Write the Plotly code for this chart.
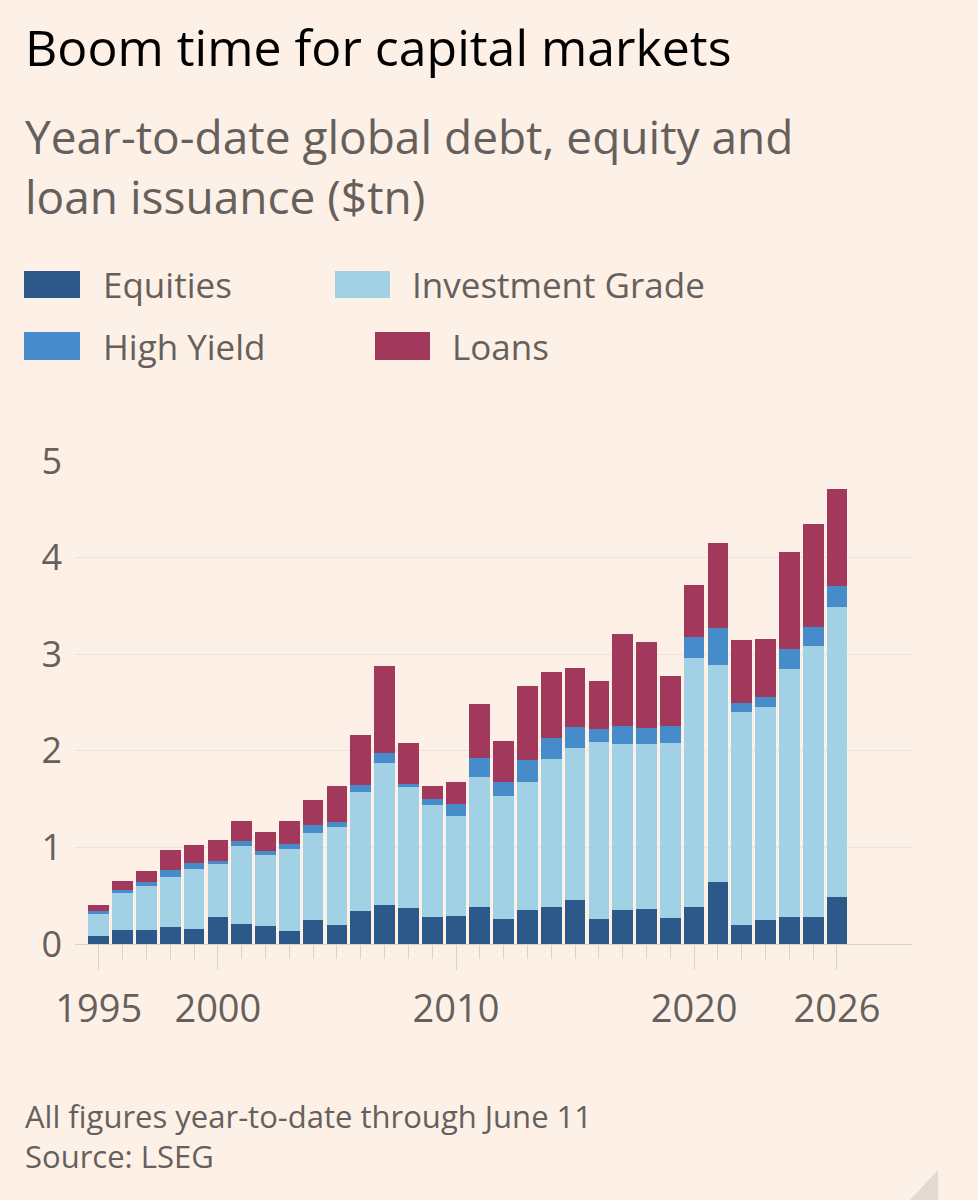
import plotly.graph_objects as go

years = list(range(1995, 2027))
equities = [0.08, 0.15, 0.14, 0.18, 0.16, 0.28, 0.21, 0.19, 0.13, 0.25,
            0.20, 0.34, 0.40, 0.37, 0.28, 0.29, 0.38, 0.26, 0.35, 0.38,
            0.46, 0.26, 0.35, 0.36, 0.27, 0.38, 0.64, 0.20, 0.25, 0.28,
            0.28, 0.49]
investment_grade = [0.24, 0.38, 0.46, 0.51, 0.62, 0.55, 0.80, 0.73, 0.85, 0.90,
                    1.01, 1.23, 1.47, 1.26, 1.16, 1.03, 1.35, 1.27, 1.33, 1.53,
                    1.57, 1.83, 1.72, 1.71, 1.81, 2.58, 2.25, 2.20, 2.20, 2.57,
                    2.81, 3.00]
high_yield = [0.02, 0.03, 0.04, 0.08, 0.06, 0.03, 0.06, 0.04, 0.06, 0.08,
              0.05, 0.08, 0.11, 0.03, 0.06, 0.13, 0.20, 0.15, 0.22, 0.22,
              0.22, 0.14, 0.19, 0.17, 0.18, 0.22, 0.38, 0.09, 0.11, 0.20,
              0.19, 0.22]
loans = [0.06, 0.09, 0.12, 0.20, 0.18, 0.22, 0.20, 0.20, 0.23, 0.26,
         0.38, 0.51, 0.90, 0.42, 0.14, 0.23, 0.55, 0.42, 0.77, 0.69,
         0.61, 0.49, 0.95, 0.89, 0.51, 0.54, 0.88, 0.66, 0.60, 1.01,
         1.07, 1.00]

x_tick_vals = [1995, 2000, 2010, 2020, 2026]
x_tick_text = ["1995", "2000", "2010", "2020", "2026"]
y_tick_vals = [0, 1, 2, 3, 4, 5]

series_names = ["Equities", "Investment Grade", "High Yield", "Loans"]
series_values = [equities, investment_grade, high_yield, loans]
colors = ["#2d5889", "#a2d0e4", "#468cca", "#a2385c"]

BG = "#fdf1e7"
TEXT_GREY = "#66605c"
FONT = "Open Sans"

# plot area in pixels
PL, PR, PT, PB = 75, 912, 461, 944
PW, PH = PR - PL, PB - PT


def px(x):
    return (x - PL) / PW


def py(y):
    return (PB - y) / PH


fig = go.Figure()
for name, vals, col in zip(series_names, series_values, colors):
    fig.add_trace(go.Bar(x=years, y=vals, name=name, marker_color=col,
                         marker_line_width=0, showlegend=False))

fig.update_layout(
    barmode="stack",
    bargap=0.13,
    width=978, height=1200,
    paper_bgcolor=BG, plot_bgcolor=BG,
    margin=dict(l=PL, r=978 - PR, t=PT, b=1200 - PB, autoexpand=False),
    font=dict(family=FONT, color=TEXT_GREY),
    xaxis=dict(range=[1994.0, 2029.15], tickvals=x_tick_vals, ticktext=x_tick_text,
               ticks="outside", ticklen=25, tickcolor="#ddd2c8", tickwidth=1,
               minor=dict(tickvals=years, ticks="outside", ticklen=14,
                          tickcolor="#ddd2c8", tickwidth=1),
               showgrid=False, zeroline=False,
               showline=True, linecolor="#ddd2c8", linewidth=1,
               tickfont=dict(size=38, color=TEXT_GREY, family=FONT),
               ticklabelstandoff=6),
    yaxis=dict(range=[0, 5], tickvals=y_tick_vals, showgrid=True,
               gridcolor="#ede3da", gridwidth=1, zeroline=False,
               ticks="", tickfont=dict(size=36, color=TEXT_GREY, family=FONT),
               ticklabelstandoff=12),
)

TX = 23

# Title, subtitle
fig.add_annotation(text="Boom time for capital markets", xref="paper", yref="paper",
                   x=px(TX), y=py(47), xanchor="left", yanchor="middle",
                   showarrow=False, font=dict(size=50, color="#000000", family=FONT))
fig.add_annotation(text="Year-to-date global debt, equity and<br>loan issuance ($tn)",
                   xref="paper", yref="paper", x=px(TX), y=py(166),
                   xanchor="left", yanchor="middle", align="left", showarrow=False,
                   font=dict(size=46, color=TEXT_GREY, family=FONT))

# Legend (manual)
legend_items = [
    ("Equities", colors[0], 24, 80, 101, 271, 298),
    ("Investment Grade", colors[1], 335, 390, 410, 271, 298),
    ("High Yield", colors[2], 24, 80, 101, 332, 360),
    ("Loans", colors[3], 375, 430, 450, 332, 360),
]
for label, col, x0, x1, tx, y0, y1 in legend_items:
    fig.add_shape(type="rect", xref="paper", yref="paper",
                  x0=px(x0), x1=px(x1), y0=py(y1), y1=py(y0),
                  fillcolor=col, line_width=0)
    fig.add_annotation(text=label, xref="paper", yref="paper",
                       x=px(tx), y=py((y0 + y1) / 2),
                       xanchor="left", yanchor="middle", showarrow=False,
                       font=dict(size=35, color=TEXT_GREY, family=FONT))

# Footer
fig.add_annotation(text="All figures year-to-date through June 11", xref="paper", yref="paper",
                   x=px(TX), y=py(1116), xanchor="left", yanchor="middle",
                   showarrow=False, font=dict(size=31, color=TEXT_GREY, family=FONT))
fig.add_annotation(text="Source: LSEG", xref="paper", yref="paper",
                   x=px(TX), y=py(1156), xanchor="left", yanchor="middle",
                   showarrow=False, font=dict(size=31, color=TEXT_GREY, family=FONT))

# page-corner fold at bottom right
fig.add_shape(type="path", xref="paper", yref="paper",
              path=f"M {px(938)} {py(1170)} L {px(938)} {py(1200)} L {px(910)} {py(1200)} Z",
              fillcolor="#e2d9d1", line_width=0)

fig.write_html("out.html",
               config={"displayModeBar": False},
               post_script="document.body.style.margin='0';"
                           "document.body.style.background='#fdf1e7';")
